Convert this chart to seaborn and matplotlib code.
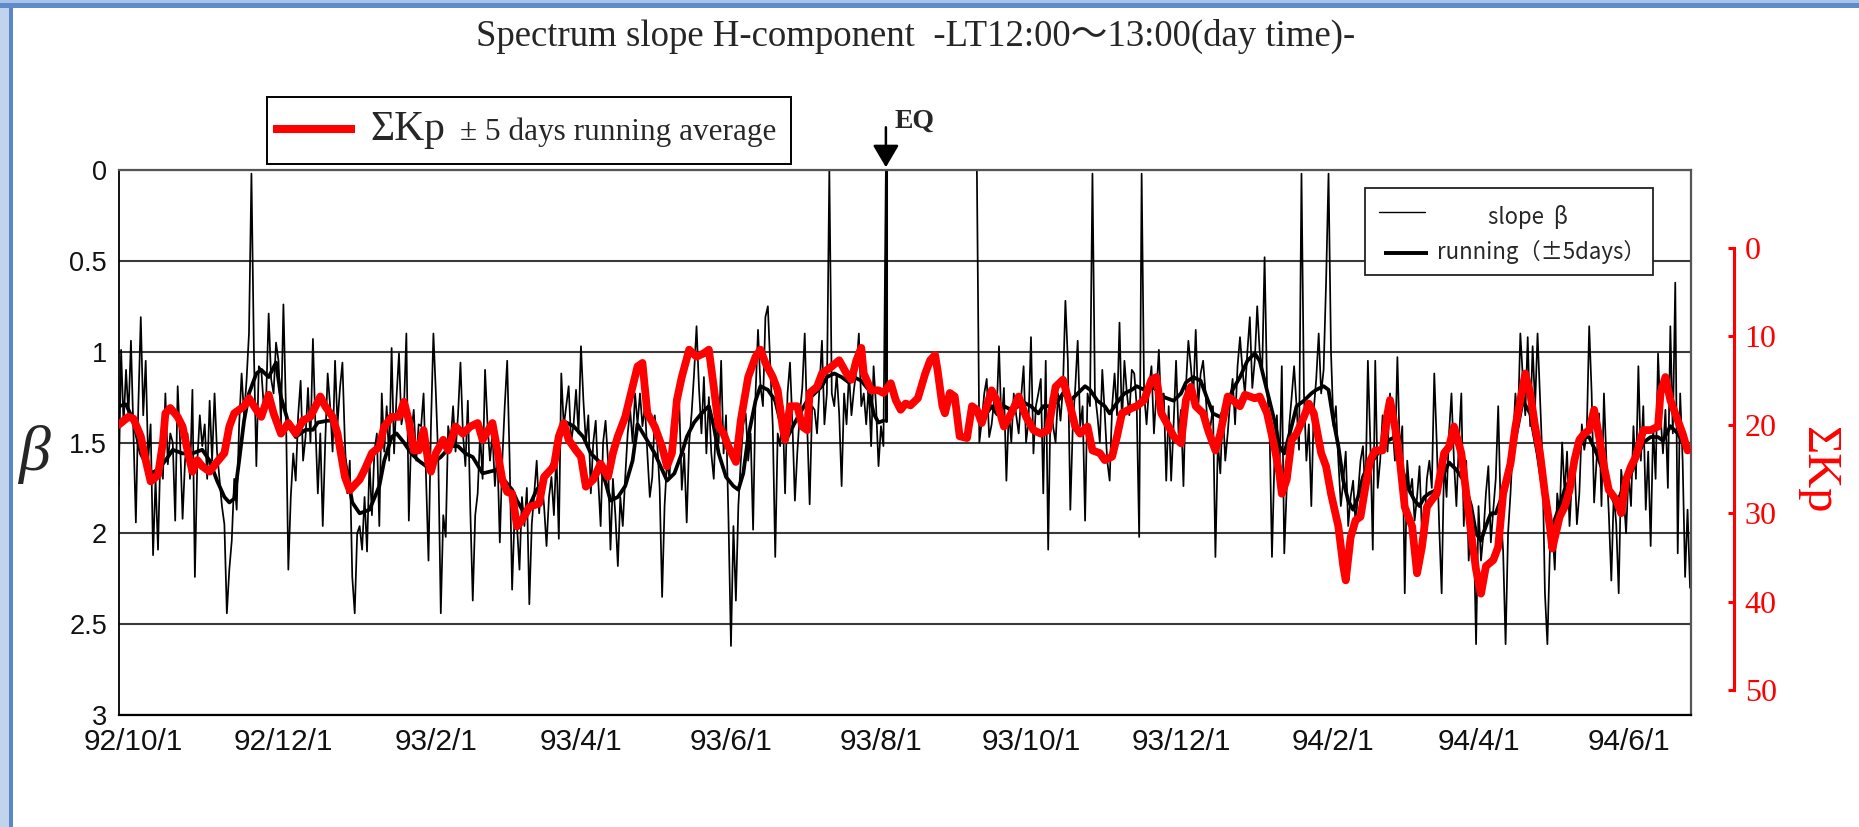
import numpy as np
import pandas as pd
import matplotlib
matplotlib.use("Agg")
import matplotlib.pyplot as plt
import matplotlib.dates as mdates
from matplotlib.patches import Rectangle
from matplotlib.lines import Line2D
import seaborn as sns

# day numbers below are counted from this date
ORIGIN = pd.Timestamp("1992-10-01")

# daily spectrum slope beta; days 307-342 carry no measurement (drawn at 0)
slope_day = list(range(-6, 307)) + list(range(343, 634))
slope_val = [
    1.74, 0.99, 1.40, 1.10, 1.35, 0.94, 1.45, 1.94, 1.30, 0.81,
    1.35, 1.05, 1.60, 1.40, 2.12, 1.70, 2.09, 1.55, 1.70, 1.23,
    1.62, 1.45, 1.50, 1.93, 1.19, 1.50, 1.92, 1.60, 1.45, 1.70,
    1.21, 2.24, 1.60, 1.35, 1.52, 1.40, 1.70, 1.27, 1.60, 1.23,
    1.55, 1.70, 1.85, 1.95, 2.44, 2.20, 2.04, 1.70, 1.87, 1.40,
    1.12, 1.35, 1.16, 0.90, 0.02, 1.00, 1.63, 1.08, 1.10, 1.30,
    1.25, 0.79, 1.15, 1.23, 0.95, 1.05, 1.40, 0.74, 1.30, 2.20,
    1.80, 1.56, 1.71, 1.35, 1.16, 1.60, 1.47, 1.20, 1.50, 0.93,
    1.40, 1.78, 1.45, 1.96, 1.50, 1.12, 1.30, 1.55, 1.05, 1.40,
    1.20, 1.06, 1.50, 1.78, 1.60, 2.24, 2.44, 2.00, 1.96, 2.09,
    1.80, 2.10, 1.60, 1.90, 1.55, 1.45, 1.96, 1.23, 1.55, 1.30,
    1.60, 0.98, 1.56, 1.25, 1.01, 1.40, 1.32, 0.90, 1.93, 1.45,
    1.32, 1.60, 1.40, 1.41, 1.23, 1.70, 2.15, 1.41, 0.90, 1.23,
    1.60, 2.44, 1.90, 2.02, 1.41, 1.50, 1.30, 1.55, 1.35, 1.06,
    1.45, 1.63, 1.27, 1.87, 2.37, 1.90, 1.78, 1.45, 1.70, 1.10,
    1.40, 1.60, 1.45, 1.74, 1.55, 2.05, 1.60, 1.30, 1.05, 1.60,
    2.31, 1.90, 1.96, 2.20, 1.80, 1.96, 1.75, 2.39, 1.95, 1.78,
    1.60, 1.89, 1.70, 1.85, 2.07, 1.80, 1.69, 1.90, 1.55, 2.03,
    1.12, 1.41, 1.30, 1.19, 1.50, 1.40, 1.21, 1.45, 0.97, 1.27,
    1.50, 1.35, 1.78, 1.50, 1.38, 1.70, 1.96, 1.50, 1.38, 1.60,
    2.09, 1.70, 1.90, 2.18, 1.80, 1.96, 1.69, 1.45, 1.32, 1.50,
    1.23, 1.40, 1.23, 1.41, 1.30, 1.56, 1.80, 1.69, 1.35, 1.50,
    1.75, 2.35, 1.85, 1.60, 1.70, 1.38, 1.55, 1.41, 1.30, 1.76,
    1.56, 1.94, 1.50, 1.34, 1.12, 0.86, 1.20, 1.45, 1.14, 1.56,
    1.25, 1.56, 1.70, 1.34, 1.50, 1.05, 1.56, 1.35, 1.93, 2.62,
    1.96, 2.37, 1.85, 1.60, 1.40, 1.34, 1.60, 1.45, 1.98, 1.23,
    0.88, 1.19, 1.30, 0.81, 0.75, 1.08, 1.41, 2.13, 1.45, 1.52,
    1.30, 1.78, 1.23, 1.06, 1.40, 1.82, 1.55, 1.34, 1.20, 0.90,
    1.41, 1.84, 1.30, 1.32, 1.45, 1.20, 0.94, 1.40, 1.23, 0.00,
    1.23, 1.30, 1.12, 1.34, 1.74, 1.23, 1.40, 1.12, 1.35, 1.21,
    1.10, 0.90, 1.30, 1.23, 1.40, 1.19, 1.52, 1.08, 1.30, 1.63,
    1.41, 1.52, 0.00,
    0.00, 1.50, 1.38, 1.23, 1.15, 1.47, 1.40, 1.27, 1.35, 0.97,
    1.41, 1.20, 1.71, 1.32, 1.50, 1.23, 1.35, 1.45, 1.25, 1.08,
    1.50, 1.38, 0.92, 1.56, 1.30, 1.23, 1.15, 1.78, 1.05, 2.09,
    1.25, 1.41, 1.50, 1.23, 1.38, 1.20, 0.72, 1.05, 1.87, 1.41,
    1.20, 0.94, 1.41, 1.30, 1.93, 1.23, 1.30, 0.02, 1.23, 1.35,
    1.50, 1.10, 1.34, 1.60, 1.71, 1.30, 1.12, 1.35, 0.84, 1.40,
    1.05, 1.23, 1.35, 1.10, 1.12, 1.30, 2.02, 0.02, 1.23, 1.40,
    1.20, 1.08, 1.45, 1.23, 0.99, 1.35, 1.23, 1.71, 1.30, 1.71,
    1.40, 1.05, 1.45, 1.32, 1.74, 1.20, 0.94, 1.08, 1.25, 0.88,
    1.30, 1.12, 1.05, 1.23, 1.45, 1.41, 1.30, 2.13, 1.50, 1.67,
    1.30, 1.60, 1.45, 1.27, 1.15, 1.40, 1.08, 0.92, 1.10, 1.23,
    1.00, 0.81, 1.20, 1.05, 0.75, 1.00, 1.12, 0.48, 1.20, 1.41,
    2.13, 1.60, 1.35, 1.70, 1.08, 2.11, 1.75, 1.41, 1.25, 1.08,
    1.30, 1.54, 0.02, 1.23, 1.60, 1.40, 1.85, 1.32, 1.15, 0.90,
    1.23, 1.10, 0.62, 0.02, 1.00, 1.41, 1.30, 1.60, 1.85, 1.71,
    1.55, 1.96, 1.80, 1.71, 1.95, 1.78, 1.60, 1.52, 1.80, 1.05,
    1.50, 2.09, 1.05, 1.75, 1.60, 1.35, 1.41, 1.55, 1.23, 1.40,
    1.60, 1.03, 1.55, 1.41, 2.33, 1.60, 1.78, 1.70, 1.93, 1.80,
    1.63, 2.00, 1.96, 1.70, 1.60, 1.75, 1.12, 1.50, 1.96, 2.33,
    1.60, 1.80, 1.45, 1.23, 1.60, 1.85, 1.50, 1.23, 1.96, 1.60,
    2.15, 1.90, 1.95, 2.61, 1.85, 2.15, 2.00, 1.78, 1.63, 2.05,
    1.87, 1.70, 1.30, 1.87, 2.10, 2.61, 2.00, 1.78, 1.50, 1.23,
    1.40, 0.90, 1.14, 1.35, 0.92, 1.41, 0.97, 1.30, 0.90, 1.25,
    1.60, 2.33, 2.61, 2.10, 1.96, 2.20, 1.78, 1.90, 1.50, 1.78,
    1.55, 1.96, 1.70, 1.60, 1.95, 1.78, 1.40, 1.54, 1.45, 0.86,
    1.23, 1.83, 1.60, 1.34, 1.85, 1.23, 1.60, 1.90, 2.26, 1.78,
    1.95, 2.33, 1.65, 1.78, 2.00, 1.67, 1.85, 1.41, 1.70, 1.08,
    1.60, 1.30, 1.87, 1.55, 2.07, 1.41, 1.70, 1.01, 1.35, 1.56,
    1.32, 1.75, 0.86, 1.45, 0.62, 2.11, 1.23, 1.60, 2.24, 1.87,
    2.30,
]

# +-5 day running mean of beta (no values across the measurement gap)
run_day = [
    -6, -3, 0, 3, 7, 10, 13, 16, 20, 24,
    28, 31, 34, 37, 39, 41, 43, 45, 47, 50,
    52, 55, 58, 60, 63, 66, 70, 73, 75, 79,
    82, 86, 89, 92, 96, 100, 102, 105, 107, 110,
    113, 116, 119, 122, 125, 129, 132, 135, 138, 142,
    145, 148, 151, 154, 156, 159, 161, 164, 167, 171,
    173, 176, 179, 183, 186, 189, 192, 194, 197, 200,
    203, 205, 209, 212, 215, 217, 220, 223, 225, 228,
    231, 234, 236, 238, 241, 244, 246, 248, 250, 253,
    255, 258, 261, 263, 266, 269, 271, 274, 277, 280,
    282, 285, 288, 291, 293, 296, 299, 301, 303, 305,
    345, 349, 351, 354, 357, 360, 362, 365, 368, 370,
    373, 376, 378, 381, 384, 387, 389, 392, 395, 397,
    400, 403, 406, 408, 411, 414, 416, 419, 423, 426,
    428, 431, 434, 437, 439, 442, 445, 447, 450, 453,
    456, 458, 460, 462, 464, 466, 468, 471, 473, 476,
    479, 481, 484, 486, 488, 490, 492, 494, 496, 498,
    500, 502, 504, 507, 510, 513, 515, 518, 521, 523,
    525, 527, 530, 533, 535, 538, 541, 544, 546, 548,
    550, 552, 554, 557, 560, 563, 565, 568, 571, 573,
    575, 577, 580, 582, 584, 587, 590, 592, 595, 598,
    600, 603, 606, 609, 611, 614, 617, 620, 622, 625,
    628, 630,
]
run_val = [
    1.30, 1.29, 1.38, 1.56, 1.67, 1.65, 1.60, 1.54, 1.56, 1.56,
    1.54, 1.60, 1.71, 1.80, 1.83, 1.81, 1.60, 1.38, 1.23, 1.12,
    1.10, 1.14, 1.06, 1.25, 1.39, 1.47, 1.43, 1.43, 1.39, 1.38,
    1.38, 1.60, 1.83, 1.89, 1.87, 1.74, 1.60, 1.47, 1.45, 1.50,
    1.56, 1.60, 1.63, 1.61, 1.58, 1.52, 1.52, 1.56, 1.58, 1.67,
    1.66, 1.65, 1.71, 1.76, 1.82, 1.89, 1.85, 1.76, 1.71, 1.60,
    1.47, 1.39, 1.41, 1.47, 1.56, 1.60, 1.72, 1.82, 1.80, 1.74,
    1.60, 1.40, 1.49, 1.56, 1.65, 1.71, 1.67, 1.56, 1.47, 1.39,
    1.34, 1.30, 1.41, 1.56, 1.69, 1.74, 1.76, 1.67, 1.47, 1.27,
    1.19, 1.21, 1.27, 1.38, 1.47, 1.39, 1.34, 1.27, 1.23, 1.19,
    1.14, 1.12, 1.14, 1.17, 1.14, 1.16, 1.21, 1.34, 1.39, 1.38,
    1.38, 1.30, 1.34, 1.30, 1.32, 1.30, 1.28, 1.30, 1.34, 1.30,
    1.30, 1.27, 1.23, 1.27, 1.23, 1.19, 1.21, 1.27, 1.30, 1.34,
    1.28, 1.23, 1.21, 1.19, 1.21, 1.19, 1.21, 1.25, 1.27, 1.23,
    1.17, 1.14, 1.16, 1.27, 1.34, 1.36, 1.28, 1.21, 1.14, 1.05,
    1.01, 1.05, 1.16, 1.27, 1.38, 1.52, 1.56, 1.41, 1.30, 1.27,
    1.23, 1.21, 1.19, 1.21, 1.38, 1.52, 1.71, 1.82, 1.87, 1.80,
    1.69, 1.63, 1.60, 1.54, 1.49, 1.47, 1.60, 1.74, 1.82, 1.85,
    1.80, 1.78, 1.76, 1.67, 1.61, 1.65, 1.71, 1.85, 2.00, 2.04,
    1.96, 1.89, 1.89, 1.78, 1.60, 1.41, 1.27, 1.34, 1.56, 1.74,
    1.89, 1.96, 1.85, 1.76, 1.71, 1.56, 1.47, 1.47, 1.56, 1.67,
    1.76, 1.85, 1.74, 1.67, 1.60, 1.50, 1.47, 1.47, 1.49, 1.41,
    1.45, 1.50,
]

# Sum Kp, +-5 day running average
kp_day = [
    -6, -2, 0, 3, 5, 7, 10, 12, 13, 15,
    18, 20, 22, 24, 26, 28, 31, 34, 37, 39,
    41, 45, 47, 50, 52, 55, 57, 60, 63, 66,
    69, 72, 76, 78, 81, 83, 86, 88, 92, 94,
    97, 100,
    102, 105, 108, 110, 112, 114, 116, 118, 120, 121,
    123, 126, 128, 131, 134, 137, 140, 142, 146, 148,
    150, 152, 154, 156, 158, 161, 165, 167, 169, 171,
    173, 175, 177, 180, 182, 184, 187, 190, 193, 195,
    197, 200, 203, 205, 207,
    209, 212, 215, 217, 219, 221, 223, 226, 229, 232,
    234, 236, 238, 240, 242, 245, 247, 250, 253, 255,
    257, 260, 262, 264, 265, 267, 270, 272, 274, 275,
    278, 280, 284, 287, 290, 292, 294, 296, 297, 300,
    303, 305, 308, 310, 312, 314,
    316, 319, 322, 324, 326, 327, 329, 330, 332, 334,
    336, 339, 341, 343, 345, 347, 349, 351, 354, 357,
    360, 363, 366, 369, 372, 375, 378, 381, 383, 385,
    388, 390, 393, 395, 398, 400, 402, 406, 408, 411,
    414, 416, 418, 421,
    423, 426, 428, 430, 432, 435, 437, 440, 442, 445,
    447, 450, 452, 456, 458, 461, 464, 466, 467, 469,
    471, 473, 476, 478, 480, 483, 485, 487, 490, 492,
    493, 495, 497, 499, 501, 503, 505, 508, 510, 511,
    513, 515, 517, 520, 522, 524, 526, 528,
    530, 533, 535, 537, 540, 542, 544, 546, 548, 550,
    553, 555, 557, 560, 562, 564, 566, 568, 570, 572,
    574, 576, 577, 580, 582, 584, 586, 588, 590, 592,
    594, 596, 598, 600, 603, 605, 607, 609, 611, 614,
    617, 620, 621, 623, 625, 628, 630, 632,
]
kp_val = [
    20.0, 19.1, 19.3, 21.3, 24.0, 26.4, 25.7, 22.0, 18.7, 18.1,
    19.1, 20.2, 22.9, 25.3, 24.0, 24.7, 25.3, 24.2, 23.2, 20.2,
    18.7, 17.9, 17.0, 18.3, 19.1, 16.6, 18.7, 21.0, 19.8, 21.0,
    19.5, 19.1, 16.8, 17.9, 19.1, 21.0, 25.9, 27.4, 26.2, 25.1,
    23.2, 22.5,
    20.2, 19.1, 19.1, 17.4, 19.5, 22.9, 22.9, 20.6, 24.4, 25.3,
    23.2, 21.7, 22.9, 20.2, 21.0, 20.2, 19.8, 21.7, 19.8, 22.9,
    26.2, 27.6, 27.8, 31.5, 30.8, 29.3, 28.9, 25.9, 25.3, 24.7,
    21.3, 19.8, 21.7, 22.9, 23.6, 27.0, 26.2, 24.4, 25.9, 23.2,
    21.3, 19.1, 15.7, 13.4, 13.0,
    18.7, 20.2, 22.5, 24.7, 23.2, 17.2, 14.6, 11.5, 12.3, 11.9,
    11.5, 15.7, 20.2, 21.0, 22.5, 24.2, 19.5, 14.6, 12.3, 11.5,
    13.0, 14.6, 16.1, 20.2, 21.7, 17.9, 17.9, 20.2, 20.6, 16.4,
    15.7, 14.2, 13.4, 12.7, 14.2, 14.9, 12.7, 11.3, 14.2, 16.1,
    16.1, 16.4, 15.3, 17.2, 18.3, 17.6,
    17.8, 17.0, 14.2, 12.7, 12.1, 13.8, 17.9, 18.7, 16.4, 16.8,
    21.3, 21.5, 17.9, 18.3, 19.8, 17.9, 16.1, 17.2, 20.2, 18.7,
    16.8, 19.1, 20.6, 21.0, 20.6, 15.7, 14.9, 17.9, 20.2, 21.0,
    20.2, 22.9, 23.2, 24.0, 23.6, 21.3, 18.7, 18.1, 17.9, 17.2,
    14.9, 14.6, 18.7, 20.2,
    21.3, 22.1, 17.2, 15.7, 17.9, 18.7, 20.6, 22.9, 21.0, 16.8,
    17.2, 17.9, 16.6, 17.0, 16.8, 18.7, 22.5, 25.5, 27.8, 26.2,
    21.7, 21.0, 19.1, 17.6, 18.7, 23.2, 24.7, 27.8, 31.5, 36.0,
    37.6, 32.7, 30.8, 30.4, 27.0, 24.0, 22.9, 22.9, 18.7, 17.2,
    20.2, 24.0, 29.3, 31.5, 36.8, 33.8, 29.3, 28.5,
    27.8, 23.2, 22.5, 20.2, 23.2, 27.8, 32.3, 36.4, 39.1, 36.0,
    35.3, 33.8, 27.8, 24.4, 20.2, 17.2, 14.2, 16.4, 20.2, 23.2,
    27.8, 31.5, 34.0, 30.4, 29.3, 27.4, 24.0, 21.7, 21.0, 20.6,
    18.3, 21.3, 24.7, 27.4, 28.5, 30.0, 26.2, 24.7, 23.6, 20.6,
    20.6, 20.2, 16.4, 14.6, 17.2, 19.5, 21.0, 22.9,
]

tick_dates = ["1992-10-01", "1992-12-01", "1993-02-01", "1993-04-01",
              "1993-06-01", "1993-08-01", "1993-10-01", "1993-12-01",
              "1994-02-01", "1994-04-01", "1994-06-01"]
tick_labels = ["92/10/1", "92/12/1", "93/2/1", "93/4/1", "93/6/1", "93/8/1",
               "93/10/1", "93/12/1", "94/2/1", "94/4/1", "94/6/1"]
beta_ticks = [0, 0.5, 1, 1.5, 2, 2.5, 3]
beta_tick_labels = ["0", "0.5", "1", "1.5", "2", "2.5", "3"]
kp_ticks = [0, 10, 20, 30, 40, 50]
eq_date = pd.Timestamp("1993-08-03")
gap_start = 307

assert len(slope_day) == len(slope_val), (len(slope_day), len(slope_val))
assert len(run_day) == len(run_val), (len(run_day), len(run_val))
assert len(kp_day) == len(kp_val), (len(kp_day), len(kp_val))


def to_date(days):
    return ORIGIN + pd.to_timedelta(np.asarray(days, dtype=float), unit="D")


slope_df = pd.DataFrame({"date": to_date(slope_day), "beta": slope_val})
run_df = pd.DataFrame({"date": to_date(run_day), "beta": run_val,
                       "part": np.where(np.asarray(run_day) < gap_start, 0, 1)})
kp_df = pd.DataFrame({"date": to_date(kp_day), "kp": kp_val})

# ---------------------------------------------------------------- layout
W, H = 1859, 827
sns.set_theme(style="white")
plt.rcParams["font.family"] = ["Liberation Sans", "DejaVu Sans"]

fig = plt.figure(figsize=(W / 100, H / 100), dpi=100)
fig.patch.set_facecolor("white")


def fx(px):
    return px / W


def fy(py):
    return 1 - py / H


ax = fig.add_axes([fx(118.6), fy(715), (1691 - 118.6) / W, (715 - 170) / H])
ax.set_facecolor("white")
ax.set_axisbelow(True)

sns.lineplot(data=slope_df, x="date", y="beta", ax=ax, color="black",
             linewidth=1.25, estimator=None, sort=False)
sns.lineplot(data=run_df, x="date", y="beta", units="part", estimator=None,
             ax=ax, color="black", linewidth=2.7, sort=False)

x_lo, x_hi = to_date([-6.02, 633.4])
ax.set_ylim(3, 0)
ax.set_yticks(beta_ticks)
ax.set_yticklabels(beta_tick_labels)
ax.set_xticks(pd.to_datetime(tick_dates))
ax.set_xticklabels(tick_labels)
ax.tick_params(length=0)
ax.tick_params(axis="y", pad=8.3, labelsize=19.5, labelcolor="#111111")
ax.tick_params(axis="x", pad=9, labelsize=21.5, labelcolor="#111111")
ax.grid(False)
ax.yaxis.grid(True, color="#3a3a3a", linewidth=1.5)
ax.set_xlabel("")
ax.set_ylabel("")
ax.spines["left"].set_color("black")
ax.spines["left"].set_linewidth(1.3)
ax.spines["bottom"].set_color("black")
ax.spines["bottom"].set_linewidth(1.6)
ax.spines["top"].set_color("#555555")
ax.spines["top"].set_linewidth(1.6)
ax.spines["right"].set_color("#555555")
ax.spines["right"].set_linewidth(1.6)

# earthquake marker
eq_num = mdates.date2num(eq_date)
ax.plot([eq_date, eq_date], [0, 1.38], color="black", linewidth=2.2)
ax.annotate("", xy=(eq_num, -0.015), xytext=(eq_num, -0.235),
            arrowprops=dict(arrowstyle="-|>,head_length=0.68,head_width=0.4",
                            color="black", lw=1.8, shrinkA=0, shrinkB=0,
                            mutation_scale=20),
            annotation_clip=False)
ax.annotate("EQ", xy=(eq_num, -0.235), xytext=(6, 0), textcoords="offset points",
            ha="left", va="baseline", fontsize=20, fontweight="bold",
            family="Liberation Serif", annotation_clip=False)

# Sum Kp on an inverted right-hand scale
ax2 = ax.twinx()
sns.lineplot(data=kp_df, x="date", y="kp", ax=ax2, color="#ff0000",
             linewidth=5.6, estimator=None, sort=False)
ax2.set_ylim(52.83, -8.824)
ax2.set_yticks(kp_ticks)
ax2.set_yticklabels([str(v) for v in kp_ticks])
ax2.tick_params(axis="y", direction="in", length=4.3, width=2.2,
                colors="#ff0000", pad=8, labelsize=23,
                labelfontfamily="Liberation Serif")
ax2.grid(False)
ax2.set_xlabel("")
ax2.set_ylabel("")
for side in ("left", "top", "bottom"):
    ax2.spines[side].set_visible(False)
ax2.spines["right"].set_position(("outward", 42.6 * 0.72))
ax2.spines["right"].set_bounds(0, 50)
ax2.spines["right"].set_color("#ff0000")
ax2.spines["right"].set_linewidth(2.2)

ax.set_xlim(x_lo, x_hi)

# ---------------------------------------------------------------- texts
fig.text(fx(915.7), fy(46), "Spectrum slope H-component  -LT12:00～13:00(day time)-",
         ha="center", va="baseline", fontsize=26.5,
         family=["Liberation Serif", "Noto Sans CJK JP"])
fig.text(fx(34), fy(455), "β", ha="center", va="center", fontsize=46,
         style="italic", family="Liberation Serif")
fig.text(fx(1818), fy(470), "ΣKp", rotation=270, ha="center", va="center",
         fontsize=35, color="#ff0000", family="Liberation Serif")

# legend for the Kp curve
fig.add_artist(Rectangle((fx(267), fy(164)), (791 - 267) / W, (164 - 97) / H,
                         transform=fig.transFigure, facecolor="white",
                         edgecolor="black", lw=1.4))
fig.add_artist(Line2D([fx(273), fx(355)], [fy(129), fy(129)], color="#ff0000",
                      lw=5.8, solid_capstyle="butt", transform=fig.transFigure))
fig.text(fx(370.7), fy(140), "ΣKp", fontsize=30, family="Liberation Serif",
         va="baseline")
fig.text(fx(459.7), fy(140), "± 5 days running average", fontsize=22.5,
         family="Liberation Serif", va="baseline")

# legend for the slope curves
fig.add_artist(Rectangle((fx(1365.3), fy(275)), (1653 - 1365.3) / W, (275 - 188) / H,
                         transform=fig.transFigure, facecolor="white",
                         edgecolor="#222222", lw=1.3))
fig.add_artist(Line2D([fx(1379), fx(1425)], [fy(212), fy(212)], color="black",
                      lw=1.0, transform=fig.transFigure))
fig.add_artist(Line2D([fx(1384), fx(1428)], [fy(253), fy(253)], color="black",
                      lw=2.8, solid_capstyle="butt", transform=fig.transFigure))
fig.text(fx(1488), fy(216.7), "slope  β", va="center", fontsize=16,
         family=["Noto Sans CJK JP", "DejaVu Sans"])
fig.text(fx(1437), fy(252), "running（±5days）", va="center", fontsize=16,
         family=["Noto Sans CJK JP", "DejaVu Sans"])

# blue page frame on the left and top edges
for (x0, y0, w, h, c) in [(0, 0, 9, H, "#c2d3ee"), (9, 0, 4, H, "#5b87c8"),
                          (0, 0, W, 3, "#a9c2e8"), (0, 3, W, 5, "#5f8bcb")]:
    fig.add_artist(Rectangle((fx(x0), fy(y0 + h)), w / W, h / H,
                             transform=fig.transFigure, facecolor=c,
                             edgecolor="none", zorder=10))

fig.savefig("out.png", dpi=100, facecolor="white")
